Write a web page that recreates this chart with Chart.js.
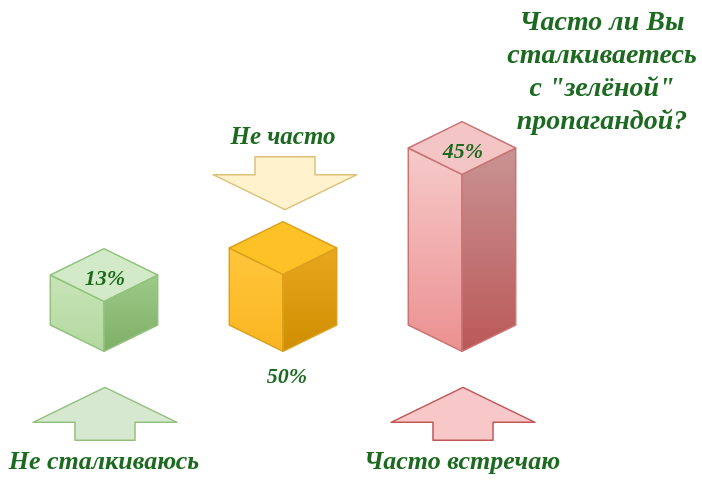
<!DOCTYPE html>
<html>
<head>
<meta charset="utf-8">
<script src="https://cdn.jsdelivr.net/npm/chart.js@4"></script>
<style>
    body { margin: 0; background: #fff; }
    .wrap { width: 702px; height: 481px; }
</style>
</head>
<body>
<div class="wrap"><canvas class="my-chart"></canvas></div>
<script>
// survey answers and their shares
const answers = ["Не сталкиваюсь", "Не часто", "Часто встречаю"];
const percents = [13, 50, 45];
// heights of the boxes as they are drawn (the picture does not scale them by percent)
const boxHeights = [50, 77, 177];
const arrowDirs = ["up", "down", "up"];
const titleLines = ["Часто ли Вы", "сталкиваетесь", "с \"зелёной\"", "пропагандой?"];

const palette = [
    { top: "#d3eac8", left: ["#c8e4b8", "#b3d89f"], right: ["#9ccb88", "#7fae67"], border: "#93c27e",
      arrowFill: "#d6e9d0", arrowLine: "#93c07f" },
    { top: "#ffc226", left: ["#ffc63c", "#fab520"], right: ["#e8a71c", "#cf8d02"], border: "#dba11e",
      arrowFill: "#fff2cc", arrowLine: "#dcc07a" },
    { top: "#f4c5c5", left: ["#f6caca", "#ec9090"], right: ["#c99393", "#bb5858"], border: "#c97474",
      arrowFill: "#f8c8c8", arrowLine: "#c05656" },
];
const textColor = "#1c6a20";
const font = (size) => "italic bold " + size + "px 'Liberation Serif', 'Times New Roman', serif";

function poly(ctx, pts, fill, stroke) {
    ctx.beginPath();
    pts.forEach((p, k) => k ? ctx.lineTo(p[0], p[1]) : ctx.moveTo(p[0], p[1]));
    ctx.closePath();
    ctx.fillStyle = fill;
    ctx.fill();
    ctx.strokeStyle = stroke;
    ctx.stroke();
}

function grad(ctx, y0, y1, stops) {
    const g = ctx.createLinearGradient(0, y0, 0, y1);
    g.addColorStop(0, stops[0]);
    g.addColorStop(1, stops[1]);
    return g;
}

// arrow with its point at (cx, tipY)
function arrow(ctx, cx, tipY, dir, c) {
    const hw = 72, sw = 30, headH = 35, stemH = 18;
    const s = dir === "up" ? 1 : -1;
    const wy = tipY + s * headH, by = wy + s * stemH;
    ctx.lineWidth = 1.5;
    poly(ctx, [[cx, tipY], [cx + hw, wy], [cx + sw, wy], [cx + sw, by],
               [cx - sw, by], [cx - sw, wy], [cx - hw, wy]], c.arrowFill, c.arrowLine);
    return by;
}

const boxPlugin = {
    id: "boxes",
    afterDatasetsDraw(chart) {
        const ctx = chart.ctx;
        const meta = chart.getDatasetMeta(0);
        meta.data.forEach((bar, i) => {
            const c = palette[i];
            const cx = bar.x, hw = bar.width / 2, d = hw * 0.49;
            const top = bar.y, base = bar.base;
            ctx.save();
            ctx.lineJoin = "round";
            ctx.lineWidth = 1.5;
            poly(ctx, [[cx - hw, top], [cx, top + d], [cx, base + d], [cx - hw, base]],
                 grad(ctx, top, base + d, c.left), c.border);
            poly(ctx, [[cx, top + d], [cx + hw, top], [cx + hw, base], [cx, base + d]],
                 grad(ctx, top, base + d, c.right), c.border);
            poly(ctx, [[cx, top - d], [cx + hw, top], [cx, top + d], [cx - hw, top]],
                 c.top, c.border);

            ctx.textAlign = "center";
            ctx.textBaseline = "alphabetic";
            if (arrowDirs[i] === "up") {
                const end = arrow(ctx, cx + 1, base + d + 36, "up", c);
                ctx.fillStyle = textColor;
                ctx.font = font(22);
                ctx.fillText(percents[i] + "%", cx + 1, top + 10);
                ctx.font = font(26);
                ctx.fillText(chart.data.labels[i], cx, end + 29);
            } else {
                const end = arrow(ctx, cx + 2, top - d - 12, "down", c);
                ctx.fillStyle = textColor;
                ctx.font = font(22);
                ctx.fillText(percents[i] + "%", cx + 4, base + d + 32);
                ctx.font = font(25);
                ctx.fillText(chart.data.labels[i], cx, end - 13);
            }
            ctx.restore();
        });

        ctx.save();
        ctx.fillStyle = textColor;
        ctx.textAlign = "center";
        ctx.textBaseline = "alphabetic";
        ctx.font = font(28);
        titleLines.forEach((line, k) => ctx.fillText(line, 602, 30 + k * 33));
        ctx.restore();
    }
};

const myChart = document.querySelector(".my-chart");

new Chart(myChart, {
    type: "bar",
    data: {
        labels: answers,
        datasets: [{
            label: "Доля",
            data: boxHeights,
            backgroundColor: "rgba(0,0,0,0)",
            borderWidth: 0,
            barPercentage: 0.6,
            categoryPercentage: 1,
        }],
    },
    options: {
        responsive: true,
        maintainAspectRatio: false,
        animation: false,
        layout: {
            padding: { left: 14.5, right: 150.5, top: 125, bottom: 156 },
        },
        scales: {
            x: { display: false },
            y: { display: false, min: 0, max: 200 },
        },
        plugins: {
            legend: { display: false },
            tooltip: { enabled: false },
        },
    },
    plugins: [boxPlugin],
});
</script>
</body>
</html>
